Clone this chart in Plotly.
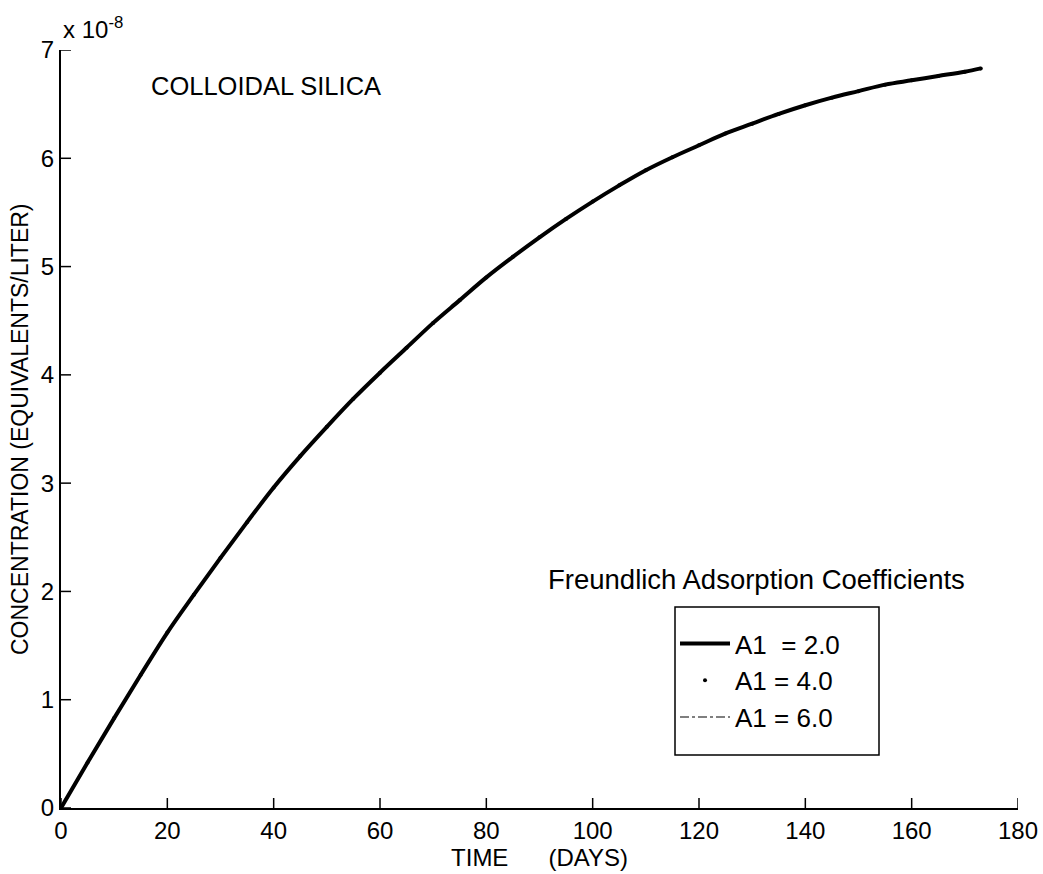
import plotly.graph_objects as go

# Time axis (days) and concentration in units of 1e-8 equivalents/liter
days = [0, 5, 10, 15, 20, 25, 30, 35, 40, 45, 50, 55, 60, 65, 70, 75, 80, 85,
        90, 95, 100, 105, 110, 115, 120, 125, 130, 135, 140, 145, 150, 155,
        160, 165, 170, 173]
conc_e8 = [0.0, 0.42, 0.83, 1.23, 1.62, 1.97, 2.31, 2.64, 2.96, 3.25, 3.52,
           3.78, 4.02, 4.25, 4.48, 4.69, 4.90, 5.09, 5.27, 5.44, 5.60, 5.75,
           5.89, 6.01, 6.12, 6.23, 6.32, 6.41, 6.49, 6.56, 6.62, 6.68, 6.72,
           6.76, 6.80, 6.83]
series_labels = ["A1\u00a0\u00a0= 2.0", "A1 = 4.0", "A1 = 6.0"]
x_ticks = [0, 20, 40, 60, 80, 100, 120, 140, 160, 180]
y_ticks = [0, 1, 2, 3, 4, 5, 6, 7]
SCALE = 1e-8

conc = [c * SCALE for c in conc_e8]
FONT = "Liberation Sans, Arial, Helvetica, sans-serif"
PLOT_W, PLOT_H = 957, 758
TICK_LEN = 10

fig = go.Figure()
# The three coefficient runs coincide; dash-dot and dotted sit under the solid one
fig.add_trace(go.Scatter(x=days, y=conc, mode="lines", name=series_labels[2],
                         line=dict(color="black", width=1.2, dash="dashdot",
                                   shape="spline"),
                         legendgroup="c", legendrank=3))
fig.add_trace(go.Scatter(x=days, y=conc, mode="markers", name=series_labels[1],
                         marker=dict(color="black", size=4), legendgroup="b",
                         legendrank=2))
fig.add_trace(go.Scatter(x=days, y=conc, mode="lines", name=series_labels[0],
                         line=dict(color="black", width=4, shape="spline",
                                   smoothing=1.0),
                         legendgroup="a", legendrank=1))

axis_common = dict(showgrid=False, zeroline=False, showline=True, linecolor="black",
                   linewidth=2, ticks="", mirror=False, automargin=False)

fig.update_layout(
    width=1043, height=874,
    margin=dict(l=61, r=25, t=50, b=66),
    paper_bgcolor="white", plot_bgcolor="white",
    font=dict(family=FONT, size=24, color="black"),
    showlegend=True,
    legend=dict(x=0.6416, y=0.248, xanchor="left", yanchor="top",
                bgcolor="rgba(0,0,0,0)", borderwidth=0,
                font=dict(size=26, family=FONT), itemwidth=50,
                tracegroupgap=6, traceorder="normal"),
    xaxis=dict(range=[0, 180], tickmode="array", tickvals=x_ticks,
               ticktext=[str(v) for v in x_ticks],
               title=dict(text="TIME" + "\u00a0" * 6 + "(DAYS)", standoff=6,
                          font=dict(size=24)),
               **axis_common),
    yaxis=dict(range=[0, 7 * SCALE], tickmode="array",
               tickvals=[v * SCALE for v in y_ticks],
               ticktext=[str(v) for v in y_ticks],
               **axis_common),
)

# Inward tick marks along the bottom and left axes
for xv in x_ticks:
    fig.add_shape(type="line", xref="x", yref="paper", x0=xv, x1=xv,
                  y0=0, y1=TICK_LEN / PLOT_H, line=dict(color="black", width=1.5))
for yv in y_ticks:
    fig.add_shape(type="line", xref="paper", yref="y", x0=0, x1=TICK_LEN / PLOT_W,
                  y0=yv * SCALE, y1=yv * SCALE, line=dict(color="black", width=1.5))

# Legend frame
fig.add_shape(type="rect", xref="paper", yref="paper",
              x0=(675 - 61) / PLOT_W, x1=(879 - 61) / PLOT_W,
              y0=(808 - 755) / PLOT_H, y1=(808 - 607) / PLOT_H,
              line=dict(color="black", width=1.5))

# Vertical axis title
fig.add_annotation(text="CONCENTRATION (EQUIVALENTS/LITER)", xref="paper", yref="paper",
                   x=0, y=0.5, xanchor="center", yanchor="middle", xshift=-41,
                   textangle=-90, showarrow=False, font=dict(size=23, family=FONT))
fig.add_annotation(text="Freundlich Adsorption Coefficients", xref="paper", yref="paper",
                   x=0.727, y=0.301, xanchor="center", yanchor="middle",
                   showarrow=False, font=dict(size=27.5, family=FONT))
fig.add_annotation(text="COLLOIDAL SILICA", xref="paper", yref="paper",
                   x=0.092, y=0.9525, xanchor="left", yanchor="middle",
                   showarrow=False, font=dict(size=25.5, family=FONT))
fig.add_annotation(text="x 10<sup>-8</sup>", xref="paper", yref="paper",
                   x=0.0, y=1, xanchor="left", yanchor="middle", yshift=22,
                   showarrow=False, font=dict(size=24, family=FONT))

fig.write_html("out.html")
